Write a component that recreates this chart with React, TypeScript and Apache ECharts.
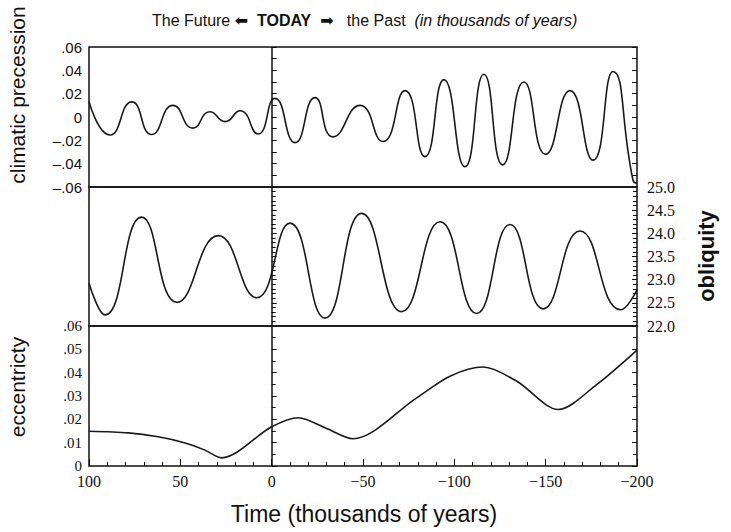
import React, { useEffect, useRef } from "react";
import * as echarts from "echarts";

// Time in thousands of years (positive = future, negative = past)
const precessionT = [100, 88.5, 76.6, 65.7, 54.0, 43.1, 33.8, 25.5, 17.3, 7.5, -1.8, -12.8, -23.7, -33.6, -48.4, -60.9, -73.0, -83.9, -94.3, -105.8, -116.2, -126.5, -138.1, -150.0, -163.3, -175.9, -186.8, -197.8, -200];
const precessionV = [0.013, -0.0154, 0.013, -0.015, 0.010, -0.0095, 0.0045, -0.004, 0.0054, -0.0146, 0.016, -0.022, 0.0166, -0.017, 0.010, -0.021, 0.0226, -0.034, 0.032, -0.0426, 0.0366, -0.041, 0.030, -0.032, 0.0226, -0.037, 0.039, -0.054, -0.057];

const obliquityT = [100, 91.2, 71.2, 51.7, 29.2, 8.2, -10.0, -29.2, -49.3, -71.2, -92.2, -112.2, -130.5, -148.7, -168.8, -191.1, -200];
const obliquityV = [22.93, 22.24, 24.35, 22.51, 23.95, 22.61, 24.22, 22.17, 24.43, 22.31, 24.25, 22.27, 24.19, 22.37, 24.05, 22.35, 22.78];

const eccentricityT = [100, 78.5, 62.2, 47.4, 36.5, 27.4, 0, -14.6, -29.2, -44.5, -79.4, -97.6, -115.9, -134.2, -156.9, -177.9, -200];
const eccentricityV = [0.0149, 0.0142, 0.0125, 0.0099, 0.0068, 0.0035, 0.0168, 0.0207, 0.0164, 0.0117, 0.0292, 0.0385, 0.0424, 0.0363, 0.0242, 0.0349, 0.0497];

const timeTicks = [100, 50, 0, -50, -100, -150, -200];

const pair = (t: number[], v: number[]) => t.map((x, i) => [x, v[i]]);

const decimalLabel = (v: number, dash: string) => {
  const r = Math.round(v * 100) / 100;
  if (r === 0) return "0";
  const s = Math.abs(r).toFixed(2).replace(/^0/, "");
  return (r < 0 ? dash : "") + s;
};

export default function App() {
  const ref = useRef<HTMLDivElement>(null);
  useEffect(() => {
    if (!ref.current) return;
    const chart = echarts.init(ref.current, undefined, { renderer: "svg" });
    const black = "#111";
    const L = 89, R = 94;
    const grids = [
      { left: L, right: R, top: 47, height: 140 },
      { left: L, right: R, top: 187, height: 139 },
      { left: L, right: R, top: 326, height: 140 },
    ].map((g) => ({ ...g, show: true, borderColor: black, borderWidth: 1.5, backgroundColor: "transparent" }));

    const tick = { show: true, inside: true, length: 5, lineStyle: { color: black, width: 1 } };
    const serif = "'Liberation Serif', 'DejaVu Serif', serif";
    const sans = "'Liberation Sans', Arial, sans-serif";

    const xBase = {
      type: "value",
      min: -200,
      max: 100,
      interval: 50,
      inverse: true,
      splitLine: { show: false },
      axisLine: { show: false },
    };
    const xAxes = [
      { ...xBase, gridIndex: 0, axisLabel: { show: false }, axisTick: { show: false } },
      { ...xBase, gridIndex: 1, axisLabel: { show: false }, axisTick: { show: false } },
      {
        ...xBase,
        gridIndex: 2,
        axisTick: { ...tick, length: 7 },
        minorTick: { show: true, splitNumber: 5, length: 4, lineStyle: { color: black } },
        axisLabel: {
          show: true,
          margin: 7,
          color: black,
          fontFamily: serif,
          fontSize: 16,
          formatter: (v: number) => (timeTicks.includes(v) ? (v < 0 ? "\u2212" + Math.abs(v) : String(v)) : ""),
        },
      },
    ];

    const yBase = { type: "value", splitLine: { show: false }, axisLine: { show: false } };
    const yAxes = [
      {
        ...yBase, gridIndex: 0, position: "left", min: -0.06, max: 0.06, interval: 0.02,
        axisTick: tick, minorTick: { show: true, splitNumber: 2, length: 5, lineStyle: { color: black } },
        axisLabel: { color: black, fontFamily: sans, fontSize: 15, margin: 7, formatter: (v: number) => decimalLabel(v, "\u2013") },
      },
      {
        ...yBase, gridIndex: 0, position: "right", min: -0.06, max: 0.06, interval: 0.02,
        axisTick: tick, minorTick: { show: true, splitNumber: 2, length: 5, lineStyle: { color: black } },
        axisLabel: { show: false },
      },
      {
        ...yBase, gridIndex: 1, position: "left", min: 22, max: 25, interval: 0.5,
        axisTick: tick, minorTick: { show: true, splitNumber: 5, length: 4, lineStyle: { color: black } },
        axisLabel: { show: false },
      },
      {
        ...yBase, gridIndex: 1, position: "right", min: 22, max: 25, interval: 0.5,
        axisTick: tick, minorTick: { show: true, splitNumber: 5, length: 4, lineStyle: { color: black } },
        axisLabel: { color: black, fontFamily: serif, fontSize: 16, margin: 10, formatter: (v: number) => v.toFixed(1) },
      },
      {
        ...yBase, gridIndex: 2, position: "left", min: 0, max: 0.06, interval: 0.01,
        axisTick: tick, minorTick: { show: true, splitNumber: 2, length: 4, lineStyle: { color: black } },
        axisLabel: { color: black, fontFamily: serif, fontSize: 15, margin: 7, formatter: (v: number) => decimalLabel(v, "-") },
      },
      {
        ...yBase, gridIndex: 2, position: "right", min: 0, max: 0.06, interval: 0.01,
        axisTick: tick, minorTick: { show: true, splitNumber: 2, length: 4, lineStyle: { color: black } },
        axisLabel: { show: false },
      },
    ];

    const zeroLine = {
      silent: true,
      symbol: "none",
      label: { show: false },
      lineStyle: { color: black, width: 1.5, type: "solid" },
      data: [{ xAxis: 0 }],
    };
    const lineStyle = { color: "#1a1a1a", width: 1.6 };
    const series = [
      { type: "line", xAxisIndex: 0, yAxisIndex: 0, data: pair(precessionT, precessionV), smooth: 0.55, showSymbol: false, lineStyle, markLine: zeroLine },
      { type: "line", xAxisIndex: 1, yAxisIndex: 3, data: pair(obliquityT, obliquityV), smooth: 0.5, showSymbol: false, lineStyle, markLine: zeroLine },
      { type: "line", xAxisIndex: 2, yAxisIndex: 4, data: pair(eccentricityT, eccentricityV), smooth: 0.3, showSymbol: false, lineStyle, markLine: zeroLine },
    ];

    const graphic = [
      {
        type: "text", x: 152, y: 20,
        style: {
          text: "{n|The Future }{a|\u2B05}{n|  }{b|TODAY}{n|  }{a|\u27A1}{n|   the Past  }{i|(in thousands of years)}",
          verticalAlign: "middle",
          rich: {
            n: { fontFamily: sans, fontSize: 16, fill: black },
            a: { fontFamily: "'DejaVu Sans', sans-serif", fontSize: 16, fill: black },
            b: { fontFamily: sans, fontSize: 16, fontWeight: "bold", fill: black },
            i: { fontFamily: sans, fontSize: 16, fontStyle: "italic", fill: black },
          },
        },
      },
      {
        type: "text", x: 17, y: 95, rotation: Math.PI / 2,
        style: { text: "climatic precession", fontFamily: sans, fontSize: 21, fill: black, align: "center", verticalAlign: "middle" },
      },
      {
        type: "text", x: 17, y: 387, rotation: Math.PI / 2,
        style: { text: "eccentricty", fontFamily: sans, fontSize: 21, fill: black, align: "center", verticalAlign: "middle" },
      },
      {
        type: "text", x: 706, y: 256, rotation: Math.PI / 2,
        style: { text: "obliquity", fontFamily: sans, fontSize: 22, fontWeight: "bold", fill: black, align: "center", verticalAlign: "middle" },
      },
      {
        type: "text", x: 364, y: 514,
        style: { text: "Time (thousands of years)", fontFamily: sans, fontSize: 23, fill: black, align: "center", verticalAlign: "middle" },
      },
    ];

    chart.setOption({
      animation: false,
      backgroundColor: "#fff",
      grid: grids,
      xAxis: xAxes,
      yAxis: yAxes,
      series,
      graphic,
    } as any);
    return () => chart.dispose();
  }, []);
  return <div ref={ref} style={{ position: "fixed", left: 0, top: 0, width: 731, height: 532 }} />;
}
